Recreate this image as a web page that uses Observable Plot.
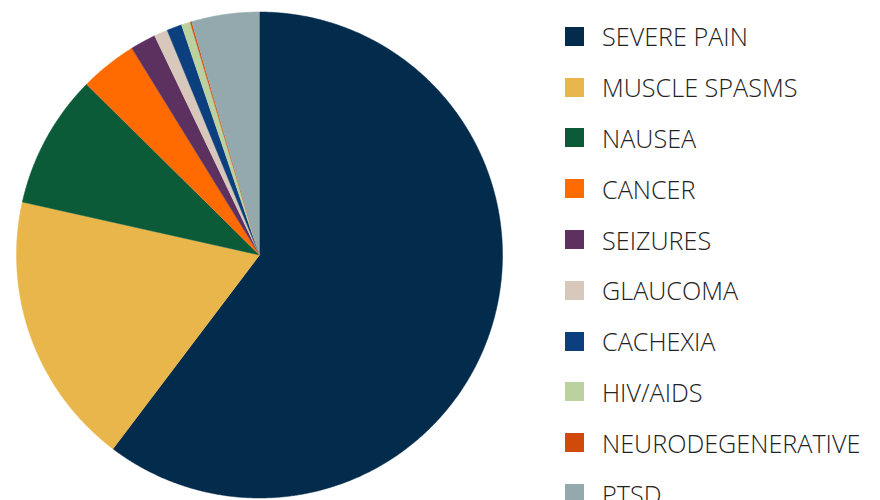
<!DOCTYPE html>
<html><head><meta charset="utf-8">
<script src="https://cdn.jsdelivr.net/npm/d3@7"></script>
<script src="https://cdn.jsdelivr.net/npm/@observablehq/plot@0.6"></script>
<style>
html,body{margin:0;padding:0;background:#fff;}
#wrap{position:relative;width:880px;height:500px;overflow:hidden;}
#wrap > svg{position:absolute;left:0;top:0;}
#legend{position:absolute;left:565px;top:11px;}
.leg-swatches{font-family:"Open Sans",sans-serif;font-weight:300;font-size:25.2px;color:#222;margin:0 !important;}
.leg-swatch{height:50.8px;padding:0 !important;}
.leg-swatch > svg{margin-right:18px !important;}
.leg-swatch-label{overflow:visible !important;}
</style></head>
<body><div id="wrap"><div id="legend"></div></div>
<script>
const categories = ["SEVERE PAIN", "MUSCLE SPASMS", "NAUSEA", "CANCER", "SEIZURES", "GLAUCOMA", "CACHEXIA", "HIV/AIDS", "NEURODEGENERATIVE", "PTSD"];
const values = [60.3, 18.2, 8.9, 3.8, 1.7, 0.9, 1.0, 0.6, 0.1, 4.5];
const colors = ["#032b4b", "#e9b64c", "#0b5a38", "#ff6b00", "#5c3160", "#d8c8bb", "#0b3f7d", "#bcd1a0", "#d04a0c", "#93a9ad"];

const W = 880, H = 500, R = 243, CX = 259, CY = 254.5;
const slices = d3.pie().sort(null).value(d => d.value)(categories.map((c, i) => ({cat: c, value: values[i]})));
const pts = [];
for (const s of slices) {
  const n = Math.max(2, Math.ceil((s.endAngle - s.startAngle) / 0.005));
  pts.push({cat: s.data.cat, x: 0, y: 0});
  for (let k = 0; k <= n; k++) {
    const a = s.startAngle + (s.endAngle - s.startAngle) * k / n;
    pts.push({cat: s.data.cat, x: Math.sin(a), y: Math.cos(a)});
  }
}
const chart = Plot.plot({
  width: W, height: H, margin: 0,
  x: {domain: [-CX / R, (W - CX) / R], axis: null},
  y: {domain: [-(H - CY) / R, CY / R], axis: null},
  color: {domain: categories, range: colors},
  marks: [Plot.line(pts, {x: "x", y: "y", z: "cat", fill: "cat", stroke: "cat", strokeWidth: 0.5})]
});
document.getElementById("wrap").prepend(chart);
document.getElementById("legend").append(chart.legend("color", {columns: 1, swatchSize: 19, className: "leg"}));
</script>
</body></html>
